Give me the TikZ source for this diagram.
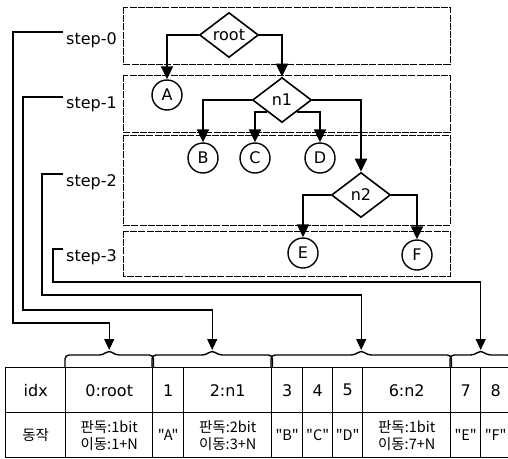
\documentclass[tikz,border=0pt]{standalone}
\usepackage{fontspec}
\setmainfont{DejaVu Sans}
\newfontfamily\kr{Noto Sans CJK KR}
\usetikzlibrary{arrows.meta,shapes.geometric,positioning,calc}

\begin{document}
\begin{tikzpicture}[
    x=1pt, y=-1pt,
    stepbox/.style={draw, line width=0.9pt, dash pattern=on 7pt off 1.2pt},
    steplbl/.style={anchor=north west, inner xsep=3pt, inner ysep=0pt, font=\fontsize{16}{18}\selectfont},
    cond/.style={draw, diamond, line width=1.6pt, minimum width=59pt, minimum height=45pt, inner sep=0pt, font=\fontsize{16}{18}\selectfont},
    leaf/.style={draw, circle, line width=1.4pt, minimum size=30pt, inner sep=0pt, font=\fontsize{16}{18}\selectfont},
    tarr/.style={-{Triangle[length=13pt,width=12pt]}, line width=1.9pt},
    link/.style={-{Triangle[length=11pt,width=10pt]}, line width=1.1pt},
    cell/.style={draw, line width=1.4pt, anchor=north west, minimum height=45pt, inner sep=0pt, align=center, font=\fontsize{16}{18}\selectfont},
    brc/.style={line width=1.4pt, rounded corners=4pt}
]
\useasboundingbox (0,0) rectangle (508,458);

% step boxes and labels
\foreach \ya/\yb in {7/64, 75/132, 135/225, 231/276}
    \draw[stepbox] (123,\ya) rectangle (450,\yb);
\foreach \i/\yy in {0/32, 1/97, 2/174, 3/249}
    \node[steplbl] (s\i) at (63,\yy) {step-\i};

% tree
\node[cond] (root) at (229,35) {root};
\node[leaf] (A) at (167,95) {A};
\node[cond] (n1) at (282,100) {n1};
\node[leaf] (B) at (203,158) {B};
\node[leaf] (C) at (255,158) {C};
\node[leaf] (D) at (320,158) {D};
\node[cond] (n2) at (361,195) {n2};
\node[leaf] (E) at (303,253) {E};
\node[leaf] (F) at (417,255) {F};

\draw[tarr] (root.west) -| (A);
\draw[tarr] (root.east) -| (n1);
\draw[tarr] (n1.west) -| (B);
\draw[tarr] (n1.south west) -| (C);
\draw[tarr] (n1.south east) -| (D);
\draw[tarr] (n1.east) -| (n2);
\draw[tarr] (n2.west) -| (E);
\draw[tarr] (n2.east) -| (F);

% table
\foreach \nm/\xx/\ww/\ta/\tb in {k0/5/60/idx/동작, k1/65/87/0:root/{판독:1bit\\이동:1+N},
    k2/152/31/1/"A", k3/183/88/2:n1/{판독:2bit\\이동:3+N}, k4/271/31/3/"B",
    k5/302/30/4/"C", k6/332/30/5/"D", k7/362/88/6:n2/{판독:1bit\\이동:7+N},
    k8/450/30/7/"E", k9/480/30/8/"F"} {
    \node[cell, minimum width=\ww pt] (\nm a) at (\xx,367) {\ta};
    \node[cell, minimum width=\ww pt, font=\kr\fontsize{14.5}{17}\selectfont] (\nm b) at (\xx,412) {\tb};
}

% braces over the table
\foreach \lo/\hi/\bn in {k1/k1/b1, k2/k3/b2, k4/k7/b3, k8/k9/b4} {
    \coordinate (\bn) at ($(\lo a.north west)!0.5!(\hi a.north east)+(0,-17)$);
    \draw[brc] (\lo a.north west) |- ([shift={(-6pt,-5pt)}]\bn) -- (\bn)
        -- ([shift={(6pt,-5pt)}]\bn) -| (\hi a.north east);
}

% step links
\draw[link] (s0.north west) -| (13,323) -| (b1);
\draw[link] (s1.north west) -| (23,310) -| (b2);
\draw[link] (s2.north west) -| (42,295) -| (b3);
\draw[link] (s3.north west) -| (53,282) -| (b4);
\end{tikzpicture}
\end{document}
